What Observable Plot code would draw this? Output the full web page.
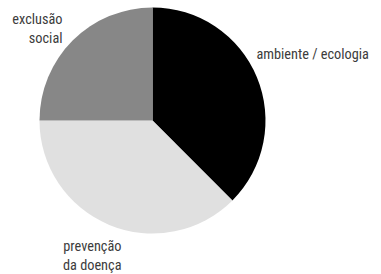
<!DOCTYPE html>
<html>
<head>
<meta charset="utf-8">
<script src="https://cdn.jsdelivr.net/npm/d3@7"></script>
<script src="https://cdn.jsdelivr.net/npm/@observablehq/plot@0.6"></script>
<style>
  html, body { margin: 0; padding: 0; background: #fff; }
</style>
</head>
<body>
<div id="chart"></div>
<script>
// Data
const categories = ["ambiente / ecologia", "prevenção da doença", "exclusão social"];
const shares = [37.5, 37.5, 25];
const labels = ["ambiente / ecologia", "prevenção\nda doença", "exclusão\nsocial"];
const colors = ["#000000", "#e0e0e0", "#878787"];

// Layout (not data)
const W = 381, H = 274;
const center = {x: 152.5, y: 120.5};
const radius = 113;
const labelLayout = [
  {angle: 56.5, r: 124, anchor: "start"},
  {angle: 193.3, r: 137, anchor: "end"},
  {angle: 315.9, r: 130, anchor: "end"}
];

const data = categories.map((c, i) => ({category: c, value: shares[i], label: labels[i], color: colors[i]}));
const arcs = d3.pie().sort(null).value(d => d.value)(data);

const labelData = data.map((d, i) => {
  const L = labelLayout[i];
  const a = L.angle * Math.PI / 180;
  return {...d, lx: center.x + L.r * Math.sin(a), ly: center.y - L.r * Math.cos(a), anchor: L.anchor};
});

const pieMark = (index, scales, values, dimensions) => {
  const cx = scales.x(center.x), cy = scales.y(center.y);
  const r = scales.x(center.x + radius) - cx;
  const arcGen = d3.arc().innerRadius(0).outerRadius(r);
  const g = d3.create("svg:g").attr("transform", `translate(${cx},${cy})`);
  g.selectAll("path").data(arcs).join("path")
    .attr("d", arcGen)
    .attr("fill", d => d.data.color);
  return g.node();
};

const fontFamily = "'Liberation Sans Narrow', 'Roboto Condensed', 'Arial Narrow', sans-serif";

const chart = Plot.plot({
  width: W,
  height: H,
  margin: 0,
  x: {domain: [0, W], range: [0, W], axis: null},
  y: {domain: [0, H], range: [0, H], axis: null},
  style: {fontFamily, background: "#fff"},
  marks: [
    pieMark,
    Plot.text(labelData.filter(d => d.anchor === "start"), {
      x: "lx", y: "ly", text: "label", textAnchor: "start",
      fontSize: 14.3, fill: "#3c3c3c", lineHeight: 1.33
    }),
    Plot.text(labelData.filter(d => d.anchor === "end"), {
      x: "lx", y: "ly", text: "label", textAnchor: "end",
      fontSize: 14.3, fill: "#3c3c3c", lineHeight: 1.33
    })
  ]
});
document.getElementById("chart").appendChild(chart);
</script>
</body>
</html>
